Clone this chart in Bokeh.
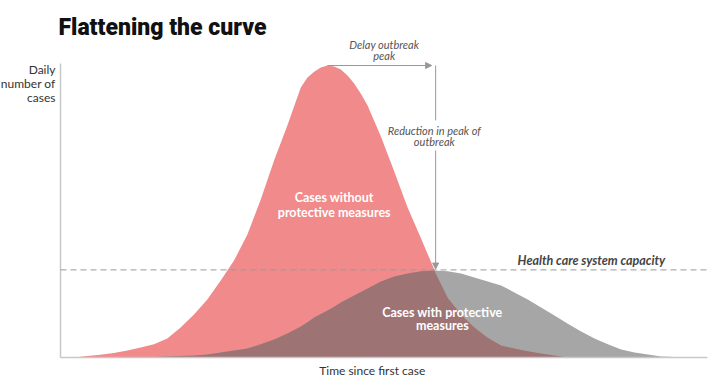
import numpy as np
from bokeh.plotting import figure
from bokeh.models import Range1d, Arrow, NormalHead
from bokeh.core.properties import value
from bokeh.embed import file_html
from bokeh.resources import INLINE

# ---- data ----
days = [0, 2, 4, 6, 8, 10, 12, 14, 16, 18, 20, 22, 24, 26, 28, 30, 32, 34, 36, 37, 38,
        39, 40, 41, 42, 43, 44, 45, 46, 48, 50, 52, 54, 56, 58, 60, 62, 64, 66, 68, 70,
        72, 74, 76, 78, 80, 82, 84, 86, 88, 90, 92, 94, 96]
without_measures = [0, 0, 0.5, 0.9, 1.5, 2.4, 3.4, 4.5, 6.5, 10.3, 14.7, 19.9, 26.4,
                    33.2, 42.1, 54.1, 67.5, 79.5, 92.5, 95.9, 97.9, 99.3, 100, 99.7,
                    98.6, 96.6, 93.8, 90.3, 86.3, 75.7, 63.7, 51.4, 40.8, 30.1, 20.5,
                    14.7, 10.3, 6.8, 4.1, 3.1, 2.1, 1.4, 0.7, 0, 0, 0, 0, 0, 0, 0, 0,
                    0, 0, 0]
with_measures = [0, 0, 0, 0, 0, 0, 0, 0.2, 0.3, 0.5, 0.7, 1.0, 1.7, 2.4, 3.1, 4.5, 6.2,
                 8.2, 10.6, 12.1, 13.7, 14.9, 16.1, 17.4, 18.8, 20.0, 21.2, 22.4, 23.6,
                 26.0, 27.7, 28.8, 29.5, 29.8, 29.5, 28.8, 27.4, 26.0, 24.7, 22.3, 19.9,
                 17.1, 14.4, 11.6, 8.9, 6.5, 4.5, 2.7, 1.7, 1.0, 0.3, 0.2, 0, 0]
capacity = 30
x_end = 96.6
y_axis_top = 100.7

title_text = "Flattening the curve"
y_label = ["Daily", "number of", "cases"]
x_label = "Time since first case"
delay_label = ["Delay outbreak", "peak"]
reduction_label = ["Reduction in peak of", "outbreak"]
capacity_label = "Health care system capacity"
without_label = ["Cases without", "protective measures"]
with_label = ["Cases with protective", "measures"]

# ---- scales: 6.675 px per day, 2.92 px per case unit ----
W, H = 715, 380
px_x, px_y = 6.675, 2.92
left_px, base_px = 60, 357
p = figure(width=W, height=H, output_backend="svg", toolbar_location=None,
           x_range=Range1d(-left_px / px_x, (W - left_px) / px_x),
           y_range=Range1d(-(H - base_px) / px_y, base_px / px_y),
           min_border=0, min_border_left=0, min_border_right=0,
           min_border_top=0, min_border_bottom=0)
p.axis.visible = False
p.grid.visible = False
p.outline_line_color = None
p.background_fill_color = "white"

x = np.array(days, dtype=float)
red = np.array(without_measures)
gray = np.array(with_measures)
overlap = np.minimum(red, gray)

RED = "#F08A8B"
GRAY = "#A6A6A6"
OVER = "#9E7374"
p.varea(x=x, y1=0, y2=red, fill_color=RED)
p.varea(x=x, y1=0, y2=gray, fill_color=GRAY)
p.varea(x=x, y1=0, y2=overlap, fill_color=OVER)

# axes lines
p.line([0, 0], [0, y_axis_top], line_color="#c8c8c8", line_width=1.5)
p.line([0, x_end + 0.3], [0, 0], line_color="#c8c8c8", line_width=1.5)

# capacity line
p.line([0, x_end + 0.3], [capacity, capacity], line_color="#9a9a9a", line_width=1,
       line_dash="6 4")

# annotations
peak_i = int(np.argmax(red))
peak_x, peak_y = days[peak_i], without_measures[peak_i]
gray_peak_i = int(np.argmax(gray))
gx = days[gray_peak_i] + 0.2
p.add_layout(Arrow(end=NormalHead(size=6, fill_color="#999999", line_color="#999999"),
                   x_start=peak_x, y_start=peak_y, x_end=gx - 0.6, y_end=peak_y,
                   line_color="#999999", line_width=1))
p.line([gx, gx], [peak_y, 81.2], line_color="#999999", line_width=1)
p.add_layout(Arrow(end=NormalHead(size=6, fill_color="#999999", line_color="#999999"),
                   x_start=gx, y_start=70.9, x_end=gx, y_end=capacity + 0.3,
                   line_color="#999999", line_width=1))

FONT = "Lato"
p.text(x=[-0.3], y=[113.0], text=[title_text],
       text_font=value("'Roboto Black', Roboto"),
       text_font_style="bold", text_font_size="23px", text_color="#111111",
       text_baseline="alphabetic", text_align="left")
p.text(x=[-0.75] * 3, y=[98.5, 93.8, 89.2], text=y_label, text_font=value(FONT),
       text_font_size="12px", text_color="#333333", text_align="right",
       text_baseline="middle")
p.text(x=[46.7], y=[-4.45], text=[x_label], text_font=value(FONT),
       text_font_size="12px", text_color="#333333", text_align="center",
       text_baseline="middle")
p.text(x=[48.5, 48.5], y=[107.2, 103.3], text=delay_label, text_font=value(FONT),
       text_font_size="11px", text_font_style="italic", text_color="#555555",
       text_align="center", text_baseline="middle")
p.text(x=[56.0, 56.0], y=[77.7, 74.0], text=reduction_label, text_font=value(FONT),
       text_font_size="11px", text_font_style="italic", text_color="#555555",
       text_align="center", text_baseline="middle")
p.text(x=[90.6], y=[33.2], text=[capacity_label], text_font=value(FONT),
       text_font_size="12.5px", text_font_style="bold italic", text_color="#444444",
       text_align="right", text_baseline="middle")
p.text(x=[41.0, 41.0], y=[54.8, 49.7], text=without_label, text_font=value(FONT),
       text_font_size="12.5px", text_font_style="bold", text_color="white",
       text_align="center", text_baseline="middle")
p.text(x=[57.2, 57.2], y=[15.4, 11.0], text=with_label, text_font=value(FONT),
       text_font_size="12.5px", text_font_style="bold", text_color="white",
       text_align="center", text_baseline="middle")

open("out.html", "w").write(file_html(p, INLINE))
